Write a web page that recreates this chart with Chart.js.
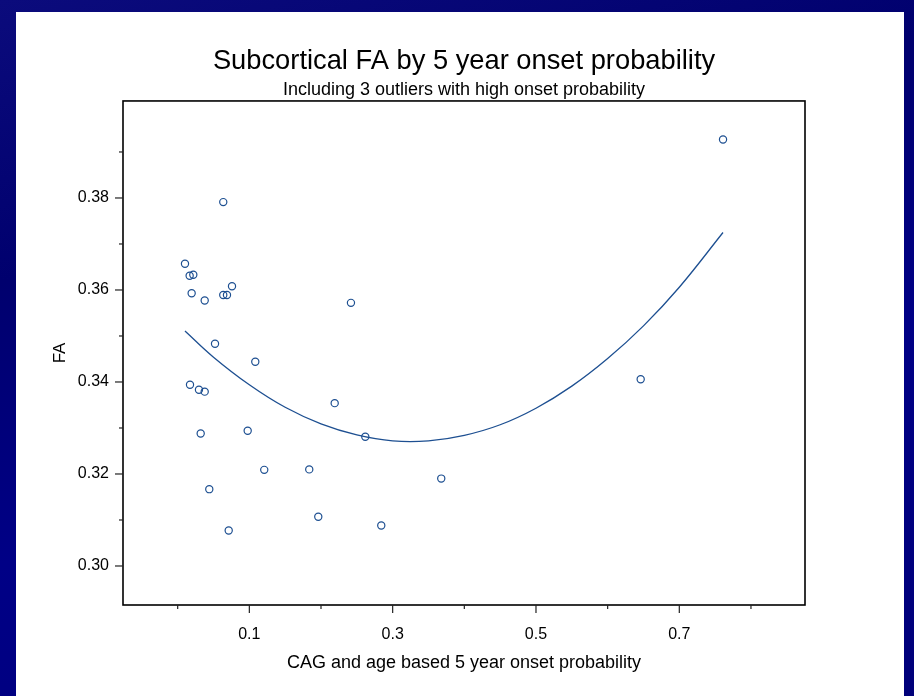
<!DOCTYPE html>
<html>
<head>
<meta charset="utf-8">
<title>Subcortical FA by 5 year onset probability</title>
<script src="https://cdn.jsdelivr.net/npm/chart.js@4.4.1/dist/chart.umd.min.js"></script>
<style>
  html, body { margin: 0; padding: 0; }
  body {
    width: 914px;
    height: 696px;
    overflow: hidden;
    position: relative;
    background: linear-gradient(165deg, #0b0b7c 0%, #00006e 30%, #000086 60%, #00007a 100%);
  }
  #panel { position: absolute; left: 16px; top: 12px; width: 888px; height: 684px; background: #fff; }
  #wrap { position: absolute; left: 20px; top: 12px; width: 888px; height: 684px; }
</style>
</head>
<body>
<div id="panel"></div>
<div id="wrap"><canvas id="fa-chart" width="888" height="684"></canvas></div>
<script>
// subjects: onset probability vs subcortical FA
const onsetProb = [
  0.0102, 0.0167, 0.0218, 0.0195, 0.0377, 0.0636, 0.0636, 0.0688, 0.0758, 0.0521,
  0.1083, 0.0172, 0.0297, 0.0377, 0.0321, 0.0977, 0.1208, 0.0441, 0.0712, 0.2418,
  0.2191, 0.2618, 0.1836, 0.1962, 0.2841, 0.3678, 0.6461, 0.7610
];
const faValues = [
  0.3657, 0.3631, 0.3633, 0.3593, 0.3577, 0.3791, 0.3589, 0.3589, 0.3608, 0.3483,
  0.3444, 0.3394, 0.3383, 0.3379, 0.3288, 0.3294, 0.3209, 0.3167, 0.3077, 0.3572,
  0.3354, 0.3281, 0.3210, 0.3107, 0.3088, 0.3190, 0.3406, 0.3927
];

// quadratic fit line, sampled along its length
const fitProb = [0.0102, 0.05, 0.10, 0.15, 0.20, 0.25, 0.30, 0.35, 0.40, 0.45, 0.50, 0.55, 0.60, 0.65, 0.70, 0.761];
const fitFA = [0.3511, 0.3454, 0.3394, 0.3345, 0.3309, 0.3285, 0.3272, 0.3272, 0.3284, 0.3307, 0.3343, 0.3391, 0.3451, 0.3522, 0.3606, 0.3725];

const xMajorTicks = [0.1, 0.3, 0.5, 0.7];
const xMinorTicks = [0.0, 0.2, 0.4, 0.6, 0.8];
const yMajorTicks = [0.30, 0.32, 0.34, 0.36, 0.38];
const yMinorTicks = [0.31, 0.33, 0.35, 0.37, 0.39];

const navy = '#1d4f91';
const fontFamily = '"Liberation Sans", Arial, sans-serif';

function tickList(major, minor) {
  return major.map(v => ({value: v, major: true}))
    .concat(minor.map(v => ({value: v, major: false})))
    .sort((a, b) => a.value - b.value);
}

// box round the plot plus the outside tick marks (long for labelled, short for minor)
const axisFrame = {
  id: 'axisFrame',
  afterDraw(chart) {
    const {ctx, chartArea, scales} = chart;
    const {left, top, right, bottom} = chartArea;
    ctx.save();
    ctx.strokeStyle = '#000';
    ctx.lineWidth = 1.6;
    ctx.strokeRect(left, top, right - left, bottom - top);
    ctx.lineWidth = 1.2;
    ctx.strokeStyle = '#222';
    const mark = (x1, y1, x2, y2) => {
      ctx.beginPath();
      ctx.moveTo(x1, y1);
      ctx.lineTo(x2, y2);
      ctx.stroke();
    };
    xMajorTicks.forEach(v => { const px = scales.x.getPixelForValue(v); mark(px, bottom, px, bottom + 8); });
    xMinorTicks.forEach(v => { const px = scales.x.getPixelForValue(v); mark(px, bottom, px, bottom + 4); });
    yMajorTicks.forEach(v => { const py = scales.y.getPixelForValue(v); mark(left, py, left - 8, py); });
    yMinorTicks.forEach(v => { const py = scales.y.getPixelForValue(v); mark(left, py, left - 4, py); });
    ctx.restore();
  }
};

new Chart(document.getElementById('fa-chart'), {
  type: 'scatter',
  data: {
    datasets: [{
      data: onsetProb.map((p, i) => ({x: p, y: faValues[i]})),
      pointStyle: 'circle',
      pointRadius: 3.6,
      pointBorderWidth: 1.2,
      pointBorderColor: navy,
      pointBackgroundColor: 'rgba(0,0,0,0)',
      pointHoverRadius: 3.6
    }, {
      data: fitProb.map((p, i) => ({x: p, y: fitFA[i]})),
      showLine: true,
      borderColor: navy,
      borderWidth: 1.3,
      pointRadius: 0,
      tension: 0.4,
      fill: false
    }]
  },
  options: {
    responsive: false,
    animation: false,
    layout: { padding: { left: 0, right: 103, top: 0, bottom: 0 } },
    plugins: {
      legend: { display: false },
      tooltip: { enabled: false },
      // titles sit over the plot area only, so they centre on it
      title: {
        display: true,
        fullSize: false,
        text: 'Subcortical FA by 5 year onset probability',
        color: '#000',
        font: { family: fontFamily, size: 27.3, weight: 'normal' },
        padding: { top: 32.8, bottom: 0 }
      },
      subtitle: {
        display: true,
        fullSize: false,
        text: 'Including 3 outliers with high onset probability',
        color: '#000',
        font: { family: fontFamily, size: 18, weight: 'normal' },
        padding: { top: 1.8, bottom: 0 }
      }
    },
    scales: {
      x: {
        type: 'linear',
        min: -0.0763,
        max: 0.8754,
        afterBuildTicks: scale => { scale.ticks = tickList(xMajorTicks, xMinorTicks); },
        afterFit: scale => { scale.height = 91; },
        ticks: {
          autoSkip: false,
          maxRotation: 0,
          padding: 12.4,
          color: '#000',
          font: { family: fontFamily, size: 16 },
          callback: function(value) { return xMajorTicks.includes(value) ? value.toFixed(1) : ''; }
        },
        grid: { display: true, drawOnChartArea: false, drawTicks: true, tickLength: 8, tickColor: 'rgba(0,0,0,0)' },
        border: { display: false },
        title: {
          display: true,
          text: 'CAG and age based 5 year onset probability',
          color: '#000',
          font: { family: fontFamily, size: 18 },
          padding: { top: 0, bottom: 22.2 }
        }
      },
      y: {
        type: 'linear',
        min: 0.29152,
        max: 0.40109,
        afterBuildTicks: scale => { scale.ticks = tickList(yMajorTicks, yMinorTicks); },
        afterFit: scale => { scale.width = 103; },
        ticks: {
          autoSkip: false,
          padding: 6,
          color: '#000',
          font: { family: fontFamily, size: 16 },
          callback: function(value) { return yMajorTicks.includes(value) ? value.toFixed(2) : ''; }
        },
        grid: { display: true, drawOnChartArea: false, drawTicks: true, tickLength: 8, tickColor: 'rgba(0,0,0,0)' },
        border: { display: false },
        title: {
          display: true,
          text: 'FA',
          color: '#000',
          font: { family: fontFamily, size: 17 },
          padding: { top: 29.8, bottom: 0 }
        }
      }
    }
  },
  plugins: [axisFrame]
});
</script>
</body>
</html>
